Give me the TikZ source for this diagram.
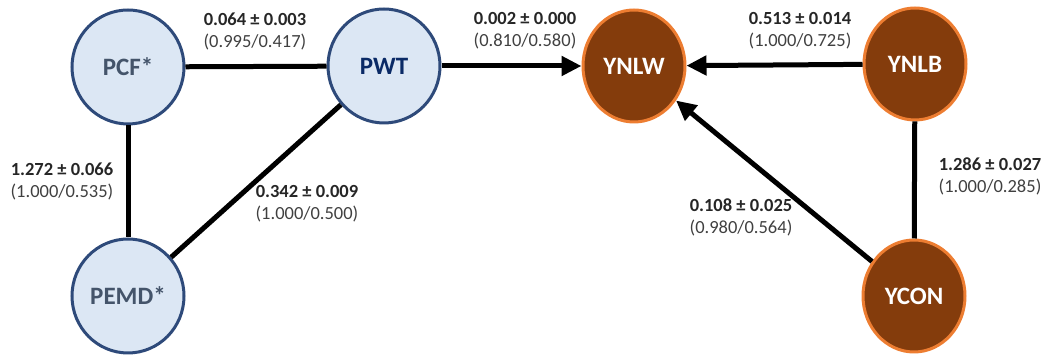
\documentclass[tikz,border=0pt]{standalone}
\usepackage{fontspec}
\setmainfont{Carlito}
\usetikzlibrary{shapes.geometric,arrows.meta}
\definecolor{bluefill}{HTML}{DCE7F4}
\definecolor{blueedge}{HTML}{2E4A7A}
\definecolor{graytext}{HTML}{44546A}
\definecolor{navytext}{HTML}{0A2A66}
\definecolor{brownfill}{HTML}{843C0C}
\definecolor{orangeedge}{HTML}{ED7D31}
\definecolor{labtext}{HTML}{262626}
\definecolor{subtext}{HTML}{404040}
\tikzset{
  bnode/.style={ellipse,draw=blueedge,fill=bluefill,line width=1.5pt,inner sep=0pt,
    minimum width=56pt,minimum height=57pt,font=\fontsize{12.5}{14}\selectfont\bfseries},
  onode/.style={ellipse,draw=orangeedge,fill=brownfill,line width=1.5pt,inner sep=0pt,
    minimum width=51pt,minimum height=56pt,text=white,font=\fontsize{12.5}{14}\selectfont\bfseries},
  conn/.style={line width=2.5pt,black},
  arr/.style={conn,-{Triangle[length=10pt,width=9.5pt]}},
  lab/.style={align=center,inner sep=0pt,font=\fontsize{9.25}{11}\selectfont,text=subtext},
}
\newcommand{\lbl}[2]{{\color{labtext}\bfseries #1}\\#2}
\begin{document}
\begin{tikzpicture}[x=0.5pt,y=-0.5pt]
\useasboundingbox (0,0) rectangle (1045,356);
\node[bnode,text=graytext] (pcf) at (128,67) {PCF*};
\node[bnode,text=navytext] (pwt) at (384,66) {PWT};
\node[bnode,text=graytext] (pemd) at (128,296) {PEMD*};
\node[onode] (ynlw) at (634,66) {YNLW};
\node[onode] (ynlb) at (915,64) {YNLB};
\node[onode] (ycon) at (914,296) {YCON};
\draw[conn] (pcf) -- (pwt);
\draw[conn] (pcf) -- (pemd);
\draw[conn] (pemd) -- (pwt);
\draw[arr] (pwt) -- (ynlw);
\draw[arr] (ynlb) -- (ynlw);
\draw[arr] (ycon) -- (ynlw);
\draw[conn] (ynlb) -- (ycon);
\node[lab] (l1) at (255,31) {\lbl{0.064 ± 0.003}{(0.995/0.417)}};
\node[lab] (l2) at (525,31) {\lbl{0.002 ± 0.000}{(0.810/0.580)}};
\node[lab] (l3) at (800,31) {\lbl{0.513 ± 0.014}{(1.000/0.725)}};
\node[lab] (l4) at (62,181) {\lbl{1.272 ± 0.066}{(1.000/0.535)}};
\node[lab] (l5) at (307,204) {\lbl{0.342 ± 0.009}{(1.000/0.500)}};
\node[lab] (l6) at (741,217) {\lbl{0.108 ± 0.025}{(0.980/0.564)}};
\node[lab] (l7) at (990,176) {\lbl{1.286 ± 0.027}{(1.000/0.285)}};
\end{tikzpicture}
\end{document}
